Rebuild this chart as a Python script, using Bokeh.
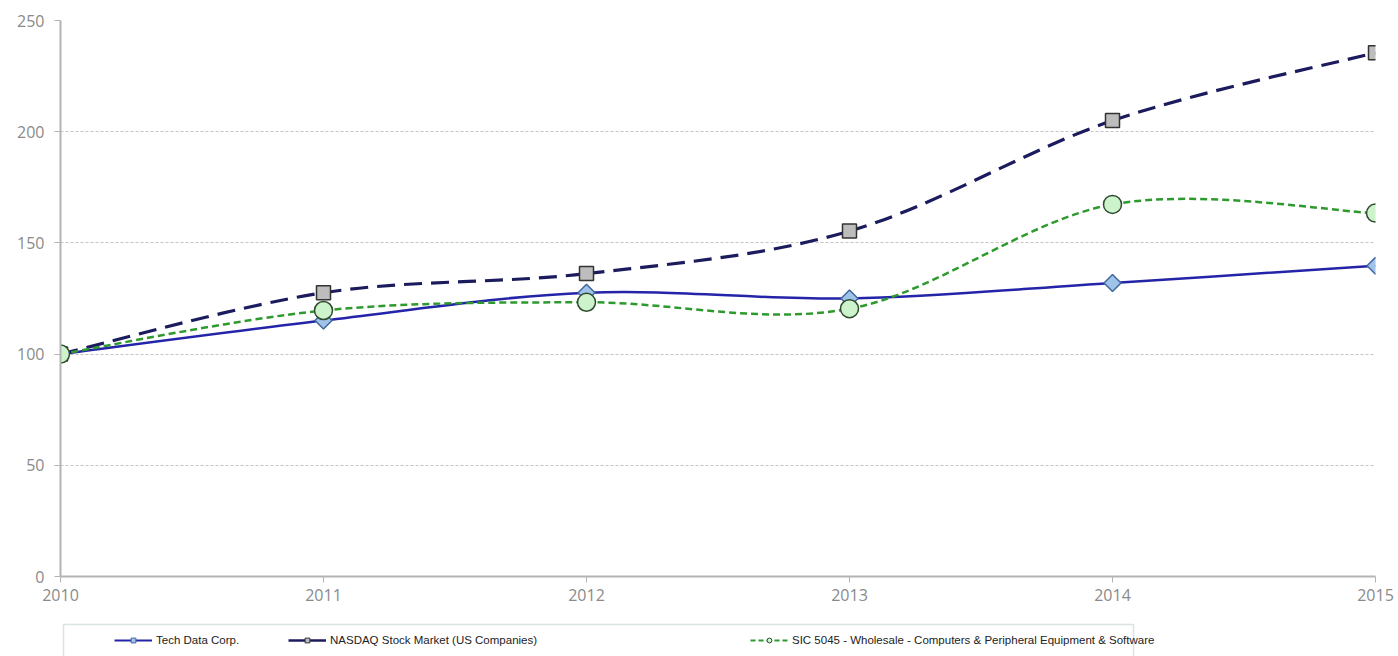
from bokeh.plotting import figure
from bokeh.layouts import column
from bokeh.models import (Range1d, Legend, LegendItem, FixedTicker, BoxAnnotation,
                          ColumnDataSource)
from bokeh.embed import file_html
from bokeh.resources import INLINE

years = [2010, 2011, 2012, 2013, 2014, 2015]
tech_data = [100, 115.1, 127.6, 125.0, 132.0, 139.7]
nasdaq = [100, 127.6, 136.2, 155.3, 205.0, 235.5]
sic_5045 = [100, 119.6, 123.3, 120.4, 167.3, 163.4]
y_ticks = [0, 50, 100, 150, 200, 250]
series_labels = ["Tech Data Corp.",
                 "NASDAQ Stock Market (US Companies)",
                 "SIC 5045 - Wholesale - Computers & Peripheral Equipment & Software"]


def smooth_source(xs, ys):
    """Bezier segments (Excel-style smoothing) built from the data points."""
    n = len(xs)
    d = dict(x0=[], y0=[], x1=[], y1=[], cx0=[], cy0=[], cx1=[], cy1=[])
    for i in range(n - 1):
        ip = i - 1 if i > 0 else i
        inn = i + 2 if i + 2 < n else i + 1
        d["x0"].append(xs[i]); d["y0"].append(ys[i])
        d["x1"].append(xs[i + 1]); d["y1"].append(ys[i + 1])
        d["cx0"].append(xs[i] + (xs[i + 1] - xs[ip]) / 6.0)
        d["cy0"].append(ys[i] + (ys[i + 1] - ys[ip]) / 6.0)
        d["cx1"].append(xs[i + 1] - (xs[inn] - xs[i]) / 6.0)
        d["cy1"].append(ys[i + 1] - (ys[inn] - ys[i]) / 6.0)
    return ColumnDataSource(d)


BL, BR = 60, 23  # left / right borders shared by both figures

p = figure(width=1398, height=610, output_backend="svg", toolbar_location=None,
           x_range=Range1d(2010, 2015), y_range=Range1d(0, 250),
           min_border_left=BL, min_border_right=BR, min_border_top=20,
           min_border_bottom=34)
p.outline_line_color = None
p.background_fill_color = "white"
p.border_fill_color = "white"

p.xgrid.grid_line_color = None
p.ygrid.grid_line_color = "#c4c4c4"
p.ygrid.grid_line_dash = "3 2"
p.ygrid.grid_line_width = 1

p.yaxis.ticker = FixedTicker(ticks=y_ticks)
p.xaxis.ticker = FixedTicker(ticks=years)
for ax in (p.xaxis[0], p.yaxis[0]):
    ax.axis_line_color = "#b4b4b4"
    ax.axis_line_width = 2
    ax.major_tick_line_color = "#b4b4b4"
    ax.major_tick_line_width = 1
    ax.major_tick_in = 0
    ax.major_tick_out = 6
    ax.minor_tick_line_color = None
    ax.major_label_text_color = "#8a8a8a"
    ax.major_label_text_font = "Open Sans"
    ax.major_label_text_font_size = "16px"
p.yaxis.major_label_standoff = 10
p.xaxis.major_label_standoff = 6

styles = [
    dict(ys=tech_data, color="#2424a8", width=2.5, dash="solid",
         marker="square", angle=0.7854, size=12, fill="#9fc2e8", mline="#41689c",
         lg_dash="solid", lg_width=2, lg_size=6),
    dict(ys=nasdaq, color="#1b1b5e", width=3.2, dash="18 9",
         marker="square", angle=0.0, size=14, fill="#bdbdbd", mline="#333333",
         lg_dash="solid", lg_width=2.5, lg_size=8),
    dict(ys=sic_5045, color="#2e9a2e", width=2.5, dash="7 4",
         marker="circle", angle=0.0, size=18, fill="#cdf3cd", mline="#2f4a2f",
         lg_dash="5 3", lg_width=2, lg_size=8),
]

for s in styles:
    src = smooth_source(years, s["ys"])
    p.bezier(x0="x0", y0="y0", x1="x1", y1="y1", cx0="cx0", cy0="cy0",
             cx1="cx1", cy1="cy1", source=src, line_color=s["color"],
             line_width=s["width"], line_dash=s["dash"])

for s in styles:
    p.scatter(years, s["ys"], marker=s["marker"], angle=s["angle"], size=s["size"],
              fill_color=s["fill"], line_color=s["mline"], line_width=1.5)

# ---- legend strip below the chart (frame coordinates = page pixels) ----
q = figure(width=1398, height=46, output_backend="svg", toolbar_location=None,
           x_range=Range1d(BL, 1398 - BR), y_range=Range1d(656, 610),
           min_border_left=BL, min_border_right=BR,
           min_border_top=0, min_border_bottom=0)
q.axis.visible = False
q.grid.visible = False
q.outline_line_color = None
q.background_fill_color = "white"
q.border_fill_color = "white"

box = BoxAnnotation(left=63, right=1133, top=624, bottom=680,
                    fill_color=None, fill_alpha=0, line_color="#8aa2a9", line_width=1.5)
q.add_layout(box)

legend_x = [114, 288, 750]
for i, s in enumerate(styles):
    # legend proxies: same series, but outside this strip's visible range
    lr = q.line(years, s["ys"], line_color=s["color"], line_width=s["lg_width"],
                line_dash=s["lg_dash"])
    mr = q.scatter(years, s["ys"], marker=s["marker"], angle=s["angle"],
                   size=s["lg_size"], fill_color=s["fill"], line_color=s["mline"],
                   line_width=1)
    lg = Legend(items=[LegendItem(label=series_labels[i], renderers=[lr, mr])],
                location=(legend_x[i] - BL, 10), orientation="horizontal",
                border_line_color=None, background_fill_alpha=0,
                padding=0, margin=0, glyph_width=38, glyph_height=12,
                label_standoff=4, label_text_font="Liberation Sans",
                label_text_font_size="11.5px", label_text_color="#222222")
    q.add_layout(lg)

layout = column(p, q, spacing=0)
open("out.html", "w").write(file_html(layout, INLINE))
